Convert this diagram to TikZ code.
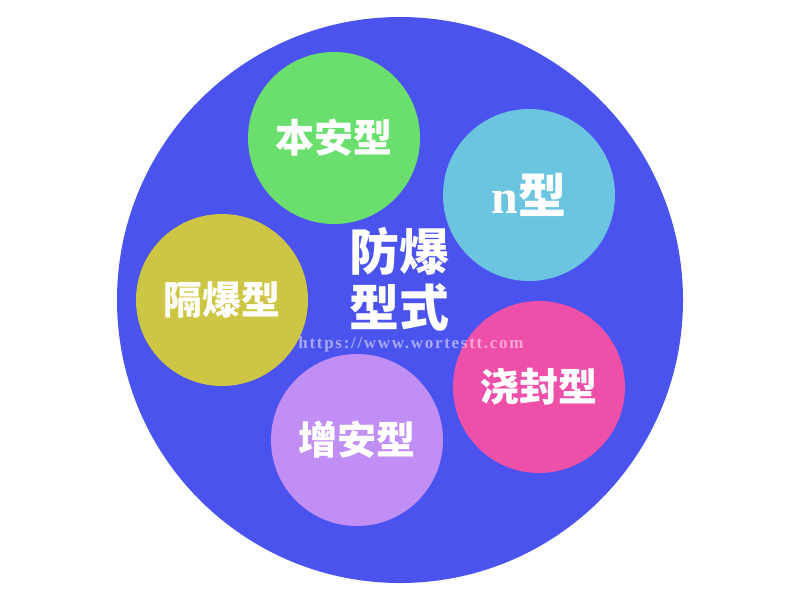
\documentclass[tikz,border=0pt]{standalone}
\usepackage{fontspec}
\setmainfont{Noto Sans CJK SC}
\newfontfamily\serifb{Liberation Serif}
\newfontfamily\wmfont[LetterSpace=10]{Liberation Serif}
\definecolor{bigblue}{RGB}{75,83,238}
\definecolor{cgreen}{RGB}{107,223,110}
\definecolor{cltblue}{RGB}{107,197,224}
\definecolor{colive}{RGB}{204,198,68}
\definecolor{cpink}{RGB}{238,79,169}
\definecolor{clav}{RGB}{192,142,245}
\begin{document}
\begin{tikzpicture}[x=1pt,y=-1pt,
  small/.style={circle,minimum size=172pt,inner sep=0pt,text=white,font=\fontsize{39}{42}\selectfont\bfseries},
  title/.style={text=white,align=center,font=\fontsize{50}{56}\selectfont\bfseries}]
\useasboundingbox (0,0) rectangle (800,600);
\node[circle,fill=bigblue,minimum size=566pt,inner sep=0pt] (big) at (400,300) {};
\node[small,fill=cgreen] (benan) at (334,138) {本安型};
\node[small,fill=cltblue,font=\fontsize{48}{50}\selectfont\bfseries] (ntype) at (529,195) {{\serifb n}型};
\node[small,fill=colive] (gebao) at (222,300) {隔爆型};
\node[small,fill=cpink] (jiaofeng) at (539,387) {浇封型};
\node[small,fill=clav] (zengan) at (357,440) {增安型};
\node[title] (center) at (399,279) {防爆\\型式};
\node[text=white,opacity=0.5,font=\wmfont\fontsize{17}{18}\selectfont\bfseries] (wm) at (411,344) {https://www.wortestt.com};
\end{tikzpicture}
\end{document}
